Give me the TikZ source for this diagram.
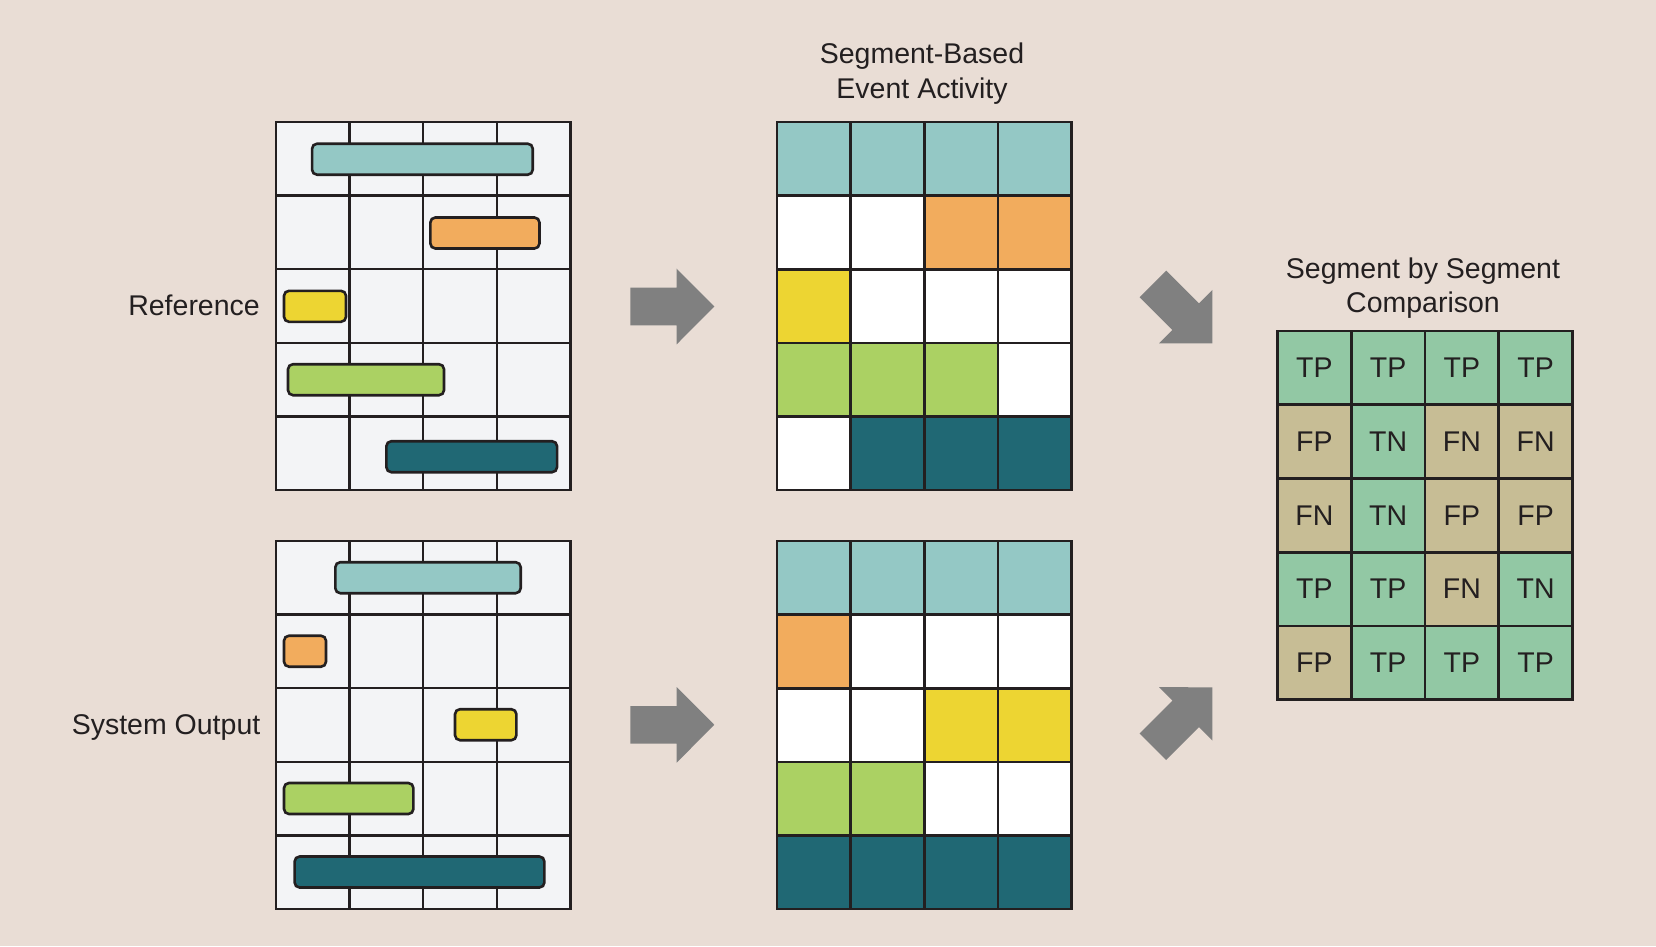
\documentclass[tikz,border=0pt]{standalone}
\usepackage{fontspec}
\setmainfont{Liberation Sans}
\definecolor{bgc}{HTML}{E9DDD5}
\definecolor{ink}{HTML}{231F20}
\definecolor{tlbg}{HTML}{F3F4F6}
\definecolor{tl}{HTML}{94C8C5}
\definecolor{or}{HTML}{F2AC5D}
\definecolor{ye}{HTML}{EDD532}
\definecolor{gr}{HTML}{ABD163}
\definecolor{dk}{HTML}{206874}
\definecolor{wh}{HTML}{FFFFFF}
\definecolor{arrowgray}{HTML}{808080}
\definecolor{cTP}{HTML}{92C8A4}
\definecolor{cTN}{HTML}{92C8A4}
\definecolor{cFP}{HTML}{C7BD95}
\definecolor{cFN}{HTML}{C7BD95}
\begin{document}
\begin{tikzpicture}[x=1pt,y=-1pt,
  lbl/.style={font=\fontsize{28.5}{34.5}\selectfont, text=ink, inner sep=0pt},
  tlframe/.style={draw=ink, line width=2.6pt, fill=tlbg, minimum width=294.4pt, minimum height=368pt, inner sep=0pt},
  gl/.style={draw=ink, line width=2.4pt},
  bar/.style={draw=ink, line width=2.6pt, rounded corners=5pt, minimum height=31pt, inner sep=0pt},
  segcell/.style={draw=ink, line width=2.6pt, minimum size=73.6pt, inner sep=0pt},
  cmpcell/.style={segcell, font=\fontsize{28.5}{34.5}\selectfont, text=ink},
  bigarrow/.pic={\fill[arrowgray] (0,0) -- (-37.6,-37.8) -- (-37.6,-18.8) -- (-84,-18.8) -- (-84,18.8) -- (-37.6,18.8) -- (-37.6,37.8) -- cycle;}
]
\useasboundingbox (0,0) rectangle (1656,946);
\fill[bgc] (0,0) rectangle (1656,946);

% ---------- timelines ----------
\node[tlframe] (refTL) at (423.2,306) {};
\node[tlframe] (outTL) at (423.2,725) {};
\foreach \top in {122,541}{
  \foreach \i in {1,2,3}
    \draw[gl] (276+\i*73.6,\top) -- (276+\i*73.6,\top+368);
  \foreach \j in {1,2,3,4}
    \draw[gl] (276,\top+\j*73.6) -- (570.4,\top+\j*73.6);
  \draw[ink, line width=2.6pt] (276,\top) rectangle (570.4,\top+368);
}
% reference bars
\node[bar, fill=tl, minimum width=220.7pt] (rb1) at (422.4,159.2) {};
\node[bar, fill=or, minimum width=109.1pt] (rb2) at (484.9,233) {};
\node[bar, fill=ye, minimum width=62pt]    (rb3) at (315,306.3) {};
\node[bar, fill=gr, minimum width=156pt]   (rb4) at (366,379.7) {};
\node[bar, fill=dk, minimum width=170.7pt] (rb5) at (471.7,456.7) {};
% output bars
\node[bar, fill=tl, minimum width=185.4pt] (ob1) at (428,577.7) {};
\node[bar, fill=or, minimum width=42pt]    (ob2) at (305,651.2) {};
\node[bar, fill=ye, minimum width=61.4pt]  (ob3) at (485.7,724.7) {};
\node[bar, fill=gr, minimum width=129.4pt] (ob4) at (348.7,798.5) {};
\node[bar, fill=dk, minimum width=249.8pt] (ob5) at (419.5,872) {};

\node[lbl, anchor=base east] (reflbl) at (260,315) {Reference};
\node[lbl, anchor=base east] (outlbl) at (260.5,734) {System Output};

% ---------- segment grids ----------
\foreach \row [count=\r] in {{tl,tl,tl,tl},{wh,wh,or,or},{ye,wh,wh,wh},{gr,gr,gr,wh},{wh,dk,dk,dk}}
  \foreach \col [count=\c] in \row
    \node[segcell, fill=\col] (rs-\r-\c) at (777+\c*73.6-36.8,122+\r*73.6-36.8) {};
\foreach \row [count=\r] in {{tl,tl,tl,tl},{or,wh,wh,wh},{wh,wh,ye,ye},{gr,gr,wh,wh},{dk,dk,dk,dk}}
  \foreach \col [count=\c] in \row
    \node[segcell, fill=\col] (os-\r-\c) at (777+\c*73.6-36.8,541+\r*73.6-36.8) {};

\node[lbl, align=center, anchor=base] (segtitle) at (922,98.3) {Segment-Based\\Event Activity};

% ---------- comparison ----------
\foreach \row [count=\r] in {{TP,TP,TP,TP},{FP,TN,FN,FN},{FN,TN,FP,FP},{TP,TP,FN,TN},{FP,TP,TP,TP}}
  \foreach \t [count=\c] in \row
    \node[cmpcell, fill=c\t] (cmp-\r-\c) at (1277.5+\c*73.75-36.875,331+\r*73.75-36.875) {\t};

\node[lbl, align=center, anchor=base] (cmptitle) at (1423,312.7) {Segment by Segment\\Comparison};

% ---------- arrows ----------
\pic at (714.3,306.5) {bigarrow};
\pic at (714.3,724.8) {bigarrow};
\pic[rotate=-45] at (1212.3,343.3) {bigarrow};
\pic[rotate=45] at (1212.3,687.3) {bigarrow};
\end{tikzpicture}
\end{document}
